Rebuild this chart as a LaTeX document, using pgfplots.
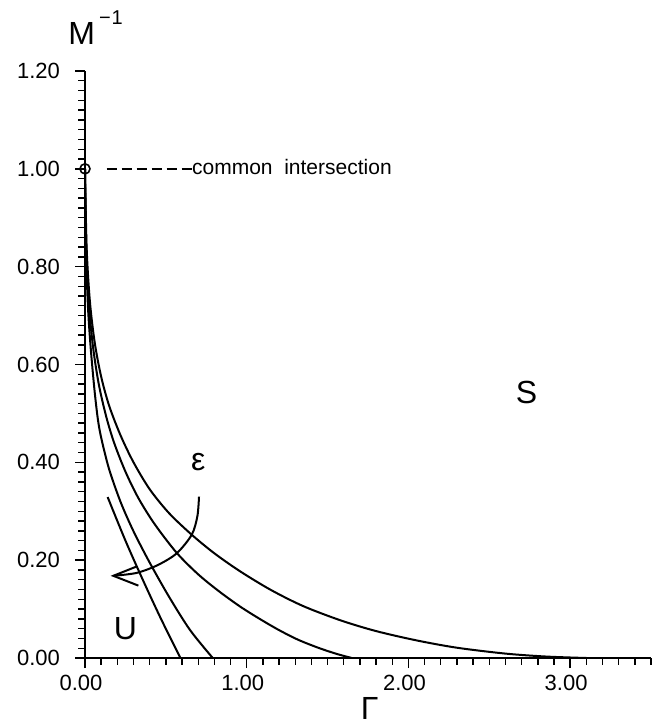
\documentclass[border=0pt]{standalone}
\usepackage{fontspec}
\setmainfont{Liberation Sans}
\usepackage{pgfplots}
\pgfplotsset{compat=1.18}

% stability boundaries M^{-1}(Gamma) for increasing epsilon
\pgfplotstableread{
x y
0.140 0.329
0.250 0.240
0.360 0.158
0.470 0.080
0.590 0.000
}\curveA
\pgfplotstableread{
x y
0.000 1.000
0.006 0.840
0.018 0.720
0.035 0.635
0.058 0.550
0.080 0.487
0.103 0.446
0.150 0.385
0.220 0.319
0.300 0.259
0.400 0.195
0.520 0.125
0.650 0.057
0.790 0.000
}\curveB
\pgfplotstableread{
x y
0.000 1.000
0.008 0.840
0.025 0.720
0.050 0.635
0.085 0.560
0.130 0.495
0.180 0.440
0.250 0.381
0.330 0.327
0.430 0.274
0.567 0.215
0.700 0.171
0.830 0.136
0.960 0.105
1.080 0.080
1.200 0.057
1.320 0.037
1.450 0.020
1.560 0.008
1.650 0.000
}\curveC
\pgfplotstableread{
x y
0.000 1.000
0.010 0.840
0.030 0.730
0.060 0.645
0.100 0.575
0.150 0.515
0.220 0.455
0.300 0.400
0.400 0.345
0.520 0.296
0.660 0.252
0.800 0.214
0.960 0.177
1.150 0.139
1.350 0.106
1.580 0.077
1.800 0.055
2.050 0.036
2.300 0.021
2.600 0.009
2.850 0.003
3.100 0.000
}\curveD

\begin{document}
\begin{tikzpicture}
\begin{axis}[
  scale only axis,
  width=283pt, height=293.5pt,
  xmin=0, xmax=3.5, ymin=0, ymax=1.2,
  axis x line*=bottom, axis y line*=left,
  axis line style={line width=1pt, -},
  xtick={0,1,2,3},
  ytick={0,0.2,0.4,0.6,0.8,1.0,1.2},
  minor xtick={0,0.1,...,3.55},
  minor ytick={0,0.02,...,1.21},
  tick align=outside,
  major tick length=5pt, minor tick length=3.5pt,
  every tick/.style={line width=0.7pt, black},
  tick label style={font=\fontsize{11}{12}\selectfont},
  xticklabel style={xshift=-2pt},
  yticklabel style={xshift=-4pt},
  /pgf/number format/.cd, fixed, fixed zerofill, precision=2, assume math mode=true,
  /pgfplots/.cd,
  clip=false,
  every axis plot/.append style={line width=1pt, black},
]
\addplot[smooth] table {\curveA};
\addplot[smooth] table {\curveB};
\addplot[smooth] table {\curveC};
\addplot[smooth] table {\curveD};

% direction of increasing epsilon
\addplot[smooth] coordinates {(0.705,0.330) (0.695,0.290) (0.660,0.252) (0.567,0.214) (0.450,0.190) (0.320,0.174) (0.175,0.168)};
\addplot[sharp plot] coordinates {(0.319,0.187) (0.175,0.168) (0.330,0.148)};

% common intersection point
\addplot[only marks, mark=o, mark size=2.5pt, mark options={line width=0.8pt}] coordinates {(0,1)};
\addplot[dash pattern=on 5pt off 2.5pt, line width=0.8pt] coordinates {(0.134,1.0) (0.66,1.0)};
\node[anchor=base west, inner sep=0, yshift=-2.7pt, font=\fontsize{10.5}{12}\selectfont] at (axis cs:0.66,1.0) {common\ \ intersection};

\node[font=\fontsize{16}{16}\selectfont] at (axis cs:0.70,0.40) {ε};
\node[font=\fontsize{16}{16}\selectfont] at (axis cs:0.25,0.061) {U};
\node[font=\fontsize{16}{16}\selectfont] at (axis cs:2.73,0.542) {S};
\node[font=\fontsize{16}{16}\selectfont, yshift=-25pt] at (axis cs:1.76,0) {Γ};
\node[anchor=base west, inner sep=0, font=\fontsize{16}{16}\selectfont, xshift=-8.5pt, yshift=13pt] at (axis cs:0,1.2) {M\hspace{2pt}\raisebox{10pt}{\fontsize{10}{10}\selectfont −\kern0.5pt 1}};
\end{axis}
\pgfresetboundingbox
\path[use as bounding box] (-42.5pt,-34pt) rectangle (291pt,329pt);
\end{tikzpicture}
\end{document}
